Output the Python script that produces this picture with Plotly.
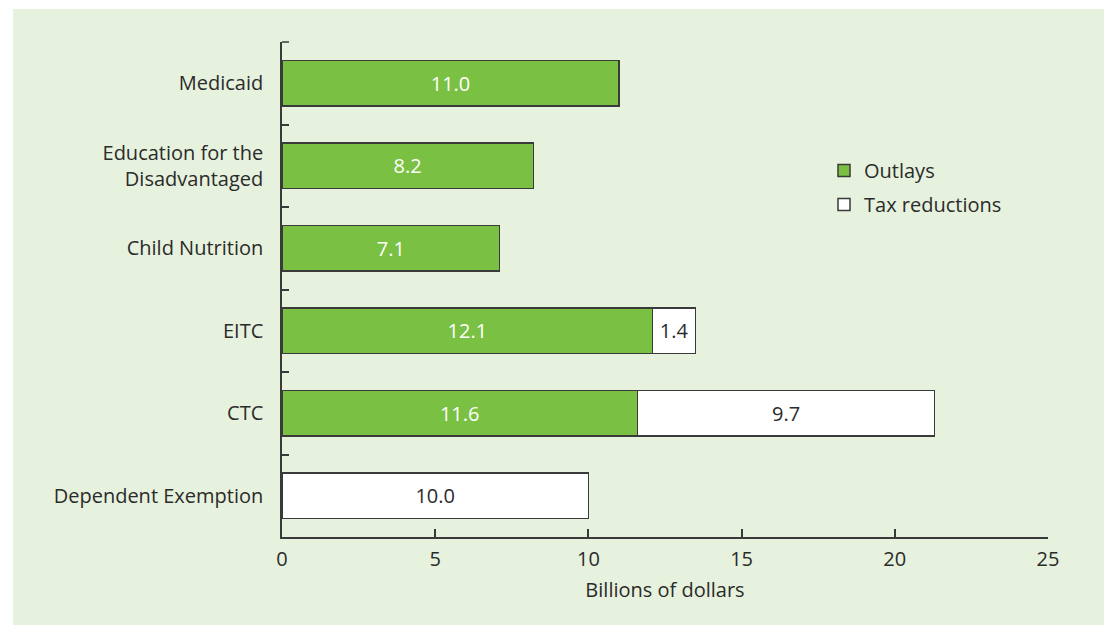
import plotly.graph_objects as go

# Data
programs = [
    "Medicaid",
    "Education for the<br>Disadvantaged",
    "Child Nutrition",
    "EITC",
    "CTC",
    "Dependent Exemption",
]
outlays = [11.0, 8.2, 7.1, 12.1, 11.6, None]
tax_reductions = [None, None, None, 1.4, 9.7, 10.0]

GREEN = "#7ac143"
PANEL = "#e6f2dd"
INK = "#2b2b2b"
LINE = "#3a3a3a"
FONT = "Open Sans, Liberation Sans, sans-serif"
FS = 20

# Plot area in pixels (within a 1104x625 figure)
W, H = 1104, 625
L, R, T, B = 282, 56, 42, 88
pw, ph = W - L - R, H - T - B


def fmt(v):
    return "" if v is None else f"{v:.1f}"


fig = go.Figure()
fig.add_trace(
    go.Bar(
        y=programs,
        x=outlays,
        orientation="h",
        name="Outlays",
        legendgroup="a",
        marker=dict(color=GREEN, line=dict(color=LINE, width=1.5)),
        text=[fmt(v) for v in outlays],
        textposition="inside",
        insidetextanchor="middle",
        textfont=dict(color="white", size=FS, family=FONT),
        hoverinfo="x+y",
    )
)
fig.add_trace(
    go.Bar(
        y=programs,
        x=tax_reductions,
        orientation="h",
        name="Tax reductions",
        legendgroup="b",
        marker=dict(color="white", line=dict(color=LINE, width=1.5)),
        text=[fmt(v) for v in tax_reductions],
        textposition="inside",
        insidetextanchor="middle",
        textfont=dict(color=INK, size=FS, family=FONT),
        hoverinfo="x+y",
    )
)

# Light green panel behind everything
fig.add_shape(
    type="rect",
    xref="paper",
    yref="paper",
    x0=(13 - L) / pw,
    x1=(W - L) / pw,
    y0=(T + ph - H) / ph,
    y1=(T + ph - 9) / ph,
    fillcolor=PANEL,
    line=dict(width=0),
    layer="below",
)
# Top boundary tick on the category axis (plotly skips the end one)
fig.add_shape(
    type="line",
    xref="paper",
    yref="paper",
    x0=0,
    x1=7 / pw,
    y0=1,
    y1=1,
    line=dict(color=LINE, width=1.5),
)

fig.update_layout(
    width=W,
    height=H,
    barmode="stack",
    bargap=0.45,
    margin=dict(l=L, r=R, t=T, b=B, pad=0),
    paper_bgcolor="white",
    plot_bgcolor="rgba(0,0,0,0)",
    font=dict(family=FONT, size=FS, color=INK),
    showlegend=True,
    legend=dict(
        x=(824 - L) / pw,
        y=(T + ph - 151) / ph,
        xanchor="left",
        yanchor="top",
        bgcolor="rgba(0,0,0,0)",
        font=dict(size=FS, color=INK),
        traceorder="grouped",
        tracegroupgap=5,
        itemwidth=30,
    ),
)
fig.update_xaxes(
    range=[0, 25],
    tickvals=[0, 5, 10, 15, 20, 25],
    showgrid=False,
    zeroline=False,
    showline=True,
    linecolor=LINE,
    linewidth=1.5,
    ticks="inside",
    ticklen=8,
    tickwidth=1.5,
    tickcolor=LINE,
    ticklabelstandoff=3,
    tickfont=dict(size=FS, color=INK),
    title=dict(text="Billions of dollars", standoff=12, font=dict(size=FS, color=INK)),
)
fig.update_yaxes(
    categoryorder="array",
    categoryarray=programs,
    range=[5.5, -0.5],
    showgrid=False,
    showline=True,
    linecolor=LINE,
    linewidth=1.5,
    ticks="inside",
    tickson="boundaries",
    ticklen=7,
    tickwidth=1.5,
    tickcolor=LINE,
    ticklabelstandoff=13,
    tickfont=dict(size=FS, color=INK),
)

fig.write_html(
    "out.html",
    config={"displayModeBar": False},
    post_script="document.body.style.margin='0';",
)
